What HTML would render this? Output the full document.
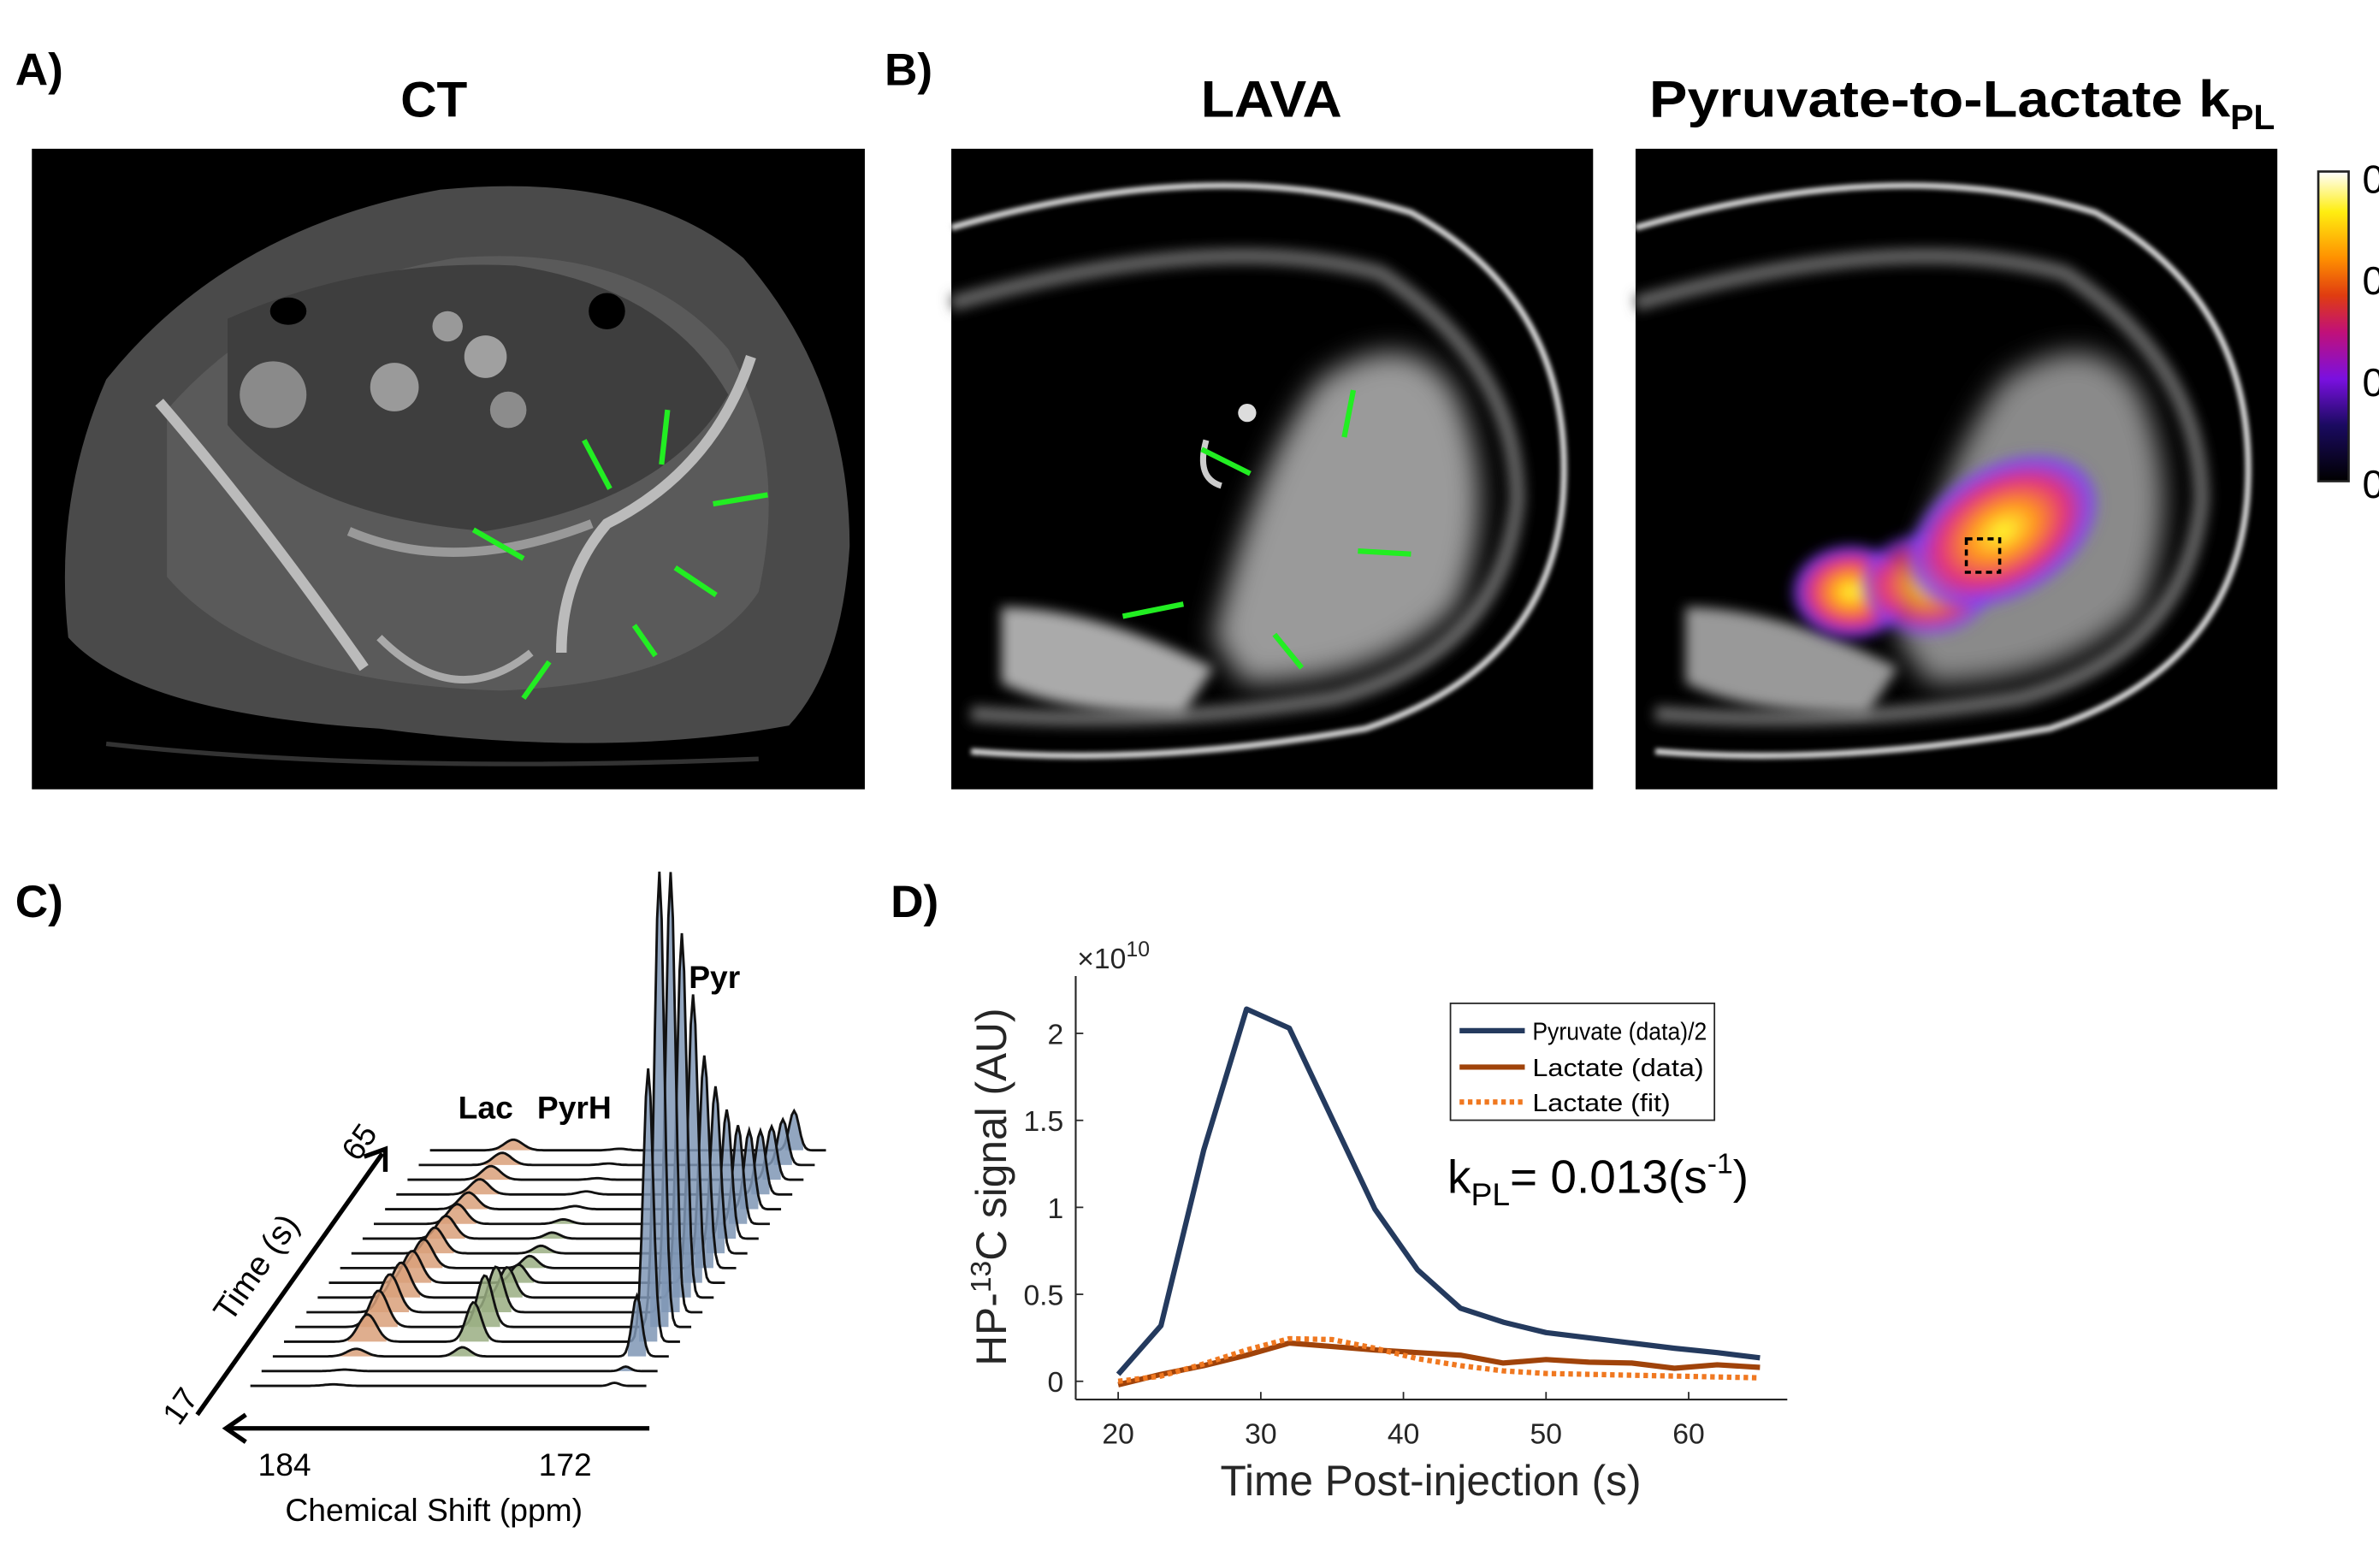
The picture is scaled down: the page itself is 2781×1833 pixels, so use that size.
<!DOCTYPE html>
<html><head><meta charset="utf-8"><style>
html,body{margin:0;padding:0;background:#fff;}
svg{display:block;}
text{font-family:"Liberation Sans",Arial,sans-serif;}
</style></head><body>
<svg id="fig" width="2781" height="1833" viewBox="0 0 1568 1033" preserveAspectRatio="none" xmlns="http://www.w3.org/2000/svg">
<defs>
<filter id="b4"><feGaussianBlur stdDeviation="4"/></filter>
<filter id="b8"><feGaussianBlur stdDeviation="9"/></filter>
<filter id="b2"><feGaussianBlur stdDeviation="1.5"/></filter>
<linearGradient id="cbar" x1="0" y1="1" x2="0" y2="0">
<stop offset="0" stop-color="#000"/><stop offset="0.18" stop-color="#1a0a60"/><stop offset="0.33" stop-color="#7a10e0"/><stop offset="0.48" stop-color="#c0107a"/><stop offset="0.6" stop-color="#e03c10"/><stop offset="0.72" stop-color="#ff9000"/><stop offset="0.87" stop-color="#ffee10"/><stop offset="1" stop-color="#fff"/>
</linearGradient>
<radialGradient id="hot" cx="0.5" cy="0.5" r="0.5">
<stop offset="0" stop-color="#ffff30"/><stop offset="0.35" stop-color="#ff9020"/><stop offset="0.65" stop-color="#e03080"/><stop offset="0.9" stop-color="#8040ff" stop-opacity="0.8"/><stop offset="1" stop-color="#6040ff" stop-opacity="0"/>
</radialGradient>
</defs>

<text x="10" y="56" font-size="30" font-weight="bold">A)</text>
<text x="583" y="56" font-size="30" font-weight="bold">B)</text>
<text x="10" y="604" font-size="30" font-weight="bold">C)</text>
<text x="587" y="604" font-size="30" font-weight="bold">D)</text>
<text x="286" y="77" font-size="33" font-weight="bold" text-anchor="middle">CT</text>
<text x="838" y="77" font-size="34" font-weight="bold" text-anchor="middle" textLength="93" lengthAdjust="spacingAndGlyphs">LAVA</text>
<text x="1087" y="77" font-size="34" font-weight="bold"><tspan textLength="383" lengthAdjust="spacingAndGlyphs">Pyruvate-to-Lactate k</tspan><tspan font-size="23" dy="8">PL</tspan></text>

<g>
<rect x="21" y="98" width="549" height="422" fill="#000"/>
<path d="M70 250 Q150 150 290 125 Q420 112 490 170 Q560 250 560 360 Q555 440 520 478 Q400 500 250 480 Q90 470 45 420 Q35 330 70 250Z" fill="#4a4a4a"/>
<path d="M110 270 Q180 190 300 170 Q420 160 480 230 Q520 300 500 390 Q460 450 330 455 Q170 450 110 380 Z" fill="#5a5a5a"/>
<path d="M150 210 Q240 170 340 175 Q440 190 480 260 Q440 330 320 350 Q200 340 150 280Z" fill="#3e3e3e"/>
<circle cx="180" cy="260" r="22" fill="#8a8a8a"/><circle cx="260" cy="255" r="16" fill="#9a9a9a"/><circle cx="320" cy="235" r="14" fill="#a0a0a0"/><circle cx="295" cy="215" r="10" fill="#999"/><circle cx="335" cy="270" r="12" fill="#8c8c8c"/>
<ellipse cx="190" cy="205" rx="12" ry="9" fill="#000"/><ellipse cx="400" cy="205" rx="12" ry="12" fill="#000"/>
<path d="M105 265 Q170 340 240 440" stroke="#bbb" stroke-width="7" fill="none"/>
<path d="M495 235 Q470 310 400 345 Q370 380 370 430" stroke="#bbb" stroke-width="7" fill="none"/>
<path d="M230 350 Q300 380 390 345" stroke="#999" stroke-width="6" fill="none"/>
<path d="M250 420 Q300 470 350 430" stroke="#aaa" stroke-width="5" fill="none"/>
<path d="M70 490 Q250 510 500 500" stroke="#333" stroke-width="3" fill="none"/>
<g stroke="#22ee22" stroke-width="3.5" fill="#22ee22">
<line x1="312" y1="349" x2="345" y2="368"/><line x1="385" y1="290" x2="402" y2="322"/><line x1="440" y1="270" x2="436" y2="306"/><line x1="506" y1="326" x2="470" y2="332"/><line x1="472" y1="392" x2="445" y2="374"/><line x1="432" y1="432" x2="418" y2="412"/><line x1="345" y1="460" x2="362" y2="436"/>
</g>
</g>

<g>
<rect x="627" y="98" width="423" height="422" fill="#000"/>
<path d="M627 150 Q800 100 930 140 Q1040 200 1030 330 Q1020 440 900 480 Q760 505 640 495" stroke="#ddd" stroke-width="4" fill="none" filter="url(#b2)"/>
<path d="M627 200 Q800 150 910 180 Q1000 240 1000 330 Q990 430 880 460 Q760 480 640 470" stroke="#666" stroke-width="10" fill="none" filter="url(#b4)"/>
<path d="M800 420 Q830 300 870 250 Q930 210 960 260 Q990 330 960 400 Q910 450 820 450Z" fill="#9a9a9a" filter="url(#b8)"/>
<path d="M660 400 Q720 400 800 440 L780 470 Q700 470 660 450Z" fill="#aaa" filter="url(#b4)"/>
<circle cx="822" cy="272" r="6" fill="#ddd"/>
<path d="M795 290 Q788 315 805 320" stroke="#ccc" stroke-width="4" fill="none"/>
<g stroke="#22ee22" stroke-width="3.5">
<line x1="792" y1="296" x2="824" y2="312"/><line x1="892" y1="257" x2="886" y2="288"/><line x1="930" y1="365" x2="895" y2="363"/><line x1="740" y1="406" x2="780" y2="398"/><line x1="858" y1="440" x2="840" y2="418"/>
</g>
</g>

<g>
<rect x="1078" y="98" width="423" height="422" fill="#000"/>
<path d="M1078 150 Q1251 100 1381 140 Q1491 200 1481 330 Q1471 440 1351 480 Q1211 505 1091 495" stroke="#ddd" stroke-width="4" fill="none" filter="url(#b2)"/>
<path d="M1078 200 Q1251 150 1361 180 Q1451 240 1451 330 Q1441 430 1331 460 Q1211 480 1091 470" stroke="#666" stroke-width="10" fill="none" filter="url(#b4)"/>
<path d="M1251 420 Q1281 300 1321 250 Q1381 210 1411 260 Q1441 330 1411 400 Q1361 450 1271 450Z" fill="#8a8a8a" filter="url(#b8)"/>
<path d="M1111 400 Q1171 400 1251 440 L1231 470 Q1151 470 1111 450Z" fill="#999" filter="url(#b4)"/>
<g filter="url(#b4)">
<ellipse cx="1220" cy="390" rx="40" ry="32" fill="url(#hot)"/>
<ellipse cx="1270" cy="385" rx="45" ry="35" fill="url(#hot)" opacity="0.85"/>
<ellipse cx="1320" cy="350" rx="70" ry="45" fill="url(#hot)" transform="rotate(-30 1320 350)"/>
</g>
<rect x="1296" y="355" width="22" height="22" fill="none" stroke="#000" stroke-width="2" stroke-dasharray="4 3"/>
</g>

<g>
<rect x="1528" y="113" width="20" height="204" fill="url(#cbar)" stroke="#222" stroke-width="1.5"/>
<text x="1557" y="127" font-size="26">0</text>
<text x="1557" y="194" font-size="26">0</text>
<text x="1557" y="261" font-size="26">0</text>
<text x="1557" y="328" font-size="26">0</text>
</g>

<g id="waterfall"></g>
<g>
<line x1="130" y1="932" x2="252" y2="760" stroke="#000" stroke-width="3"/>
<polyline points="240,762 254,757 254,772" fill="none" stroke="#000" stroke-width="3"/>
<line x1="428" y1="941" x2="150" y2="941" stroke="#000" stroke-width="3"/>
<polyline points="162,932 149,941 162,950" fill="none" stroke="#000" stroke-width="3"/>
<text x="118" y="940" font-size="21" transform="rotate(-55 118 940)">17</text>
<text x="236" y="766" font-size="21" transform="rotate(-55 236 766)">65</text>
<text x="152" y="872" font-size="22" transform="rotate(-55 152 872)">Time (s)</text>
<text x="170" y="972" font-size="21">184</text>
<text x="355" y="972" font-size="21">172</text>
<text x="286" y="1002" font-size="21" text-anchor="middle">Chemical Shift (ppm)</text>
<text x="302" y="737" font-size="21" font-weight="bold">Lac</text>
<text x="354" y="737" font-size="21" font-weight="bold">PyrH</text>
<text x="454" y="651" font-size="21" font-weight="bold">Pyr</text>
</g>

<g id="chartD">
<g id="dTicks"></g>
<line x1="709" y1="643" x2="709" y2="922" stroke="#262626" stroke-width="1.2"/>
<line x1="709" y1="922" x2="1178" y2="922" stroke="#262626" stroke-width="1.2"/>
<text x="710" y="638" font-size="19" fill="#262626">×10<tspan font-size="14" dy="-8">10</tspan></text>
<text x="663" y="782" font-size="28" fill="#262626" text-anchor="middle" transform="rotate(-90 663 782)">HP-<tspan font-size="19" dy="-10">13</tspan><tspan dy="10">C signal (AU)</tspan></text>
<text x="943" y="985" font-size="28" fill="#262626" text-anchor="middle">Time Post-injection (s)</text>
<g id="dSeries"></g>
<g>
<rect x="956" y="661" width="174" height="77" fill="#fff" stroke="#262626" stroke-width="1"/>
<line x1="962" y1="679" x2="1005" y2="679" stroke="#243a5e" stroke-width="3.5"/>
<text x="1010" y="685" font-size="16" fill="#000" textLength="115" lengthAdjust="spacingAndGlyphs">Pyruvate (data)/2</text>
<line x1="962" y1="703" x2="1005" y2="703" stroke="#a0430a" stroke-width="3.5"/>
<text x="1010" y="709" font-size="16" fill="#000" textLength="113" lengthAdjust="spacingAndGlyphs">Lactate (data)</text>
<line x1="962" y1="726" x2="1005" y2="726" stroke="#f07820" stroke-width="3.5" stroke-dasharray="3 2.5"/>
<text x="1010" y="732" font-size="16" fill="#000" textLength="91" lengthAdjust="spacingAndGlyphs">Lactate (fit)</text>
</g>
<text x="954" y="786" font-size="31" fill="#000">k<tspan font-size="21" dy="8">PL</tspan><tspan dy="-8">= 0.013(s</tspan><tspan font-size="19" dy="-13">-1</tspan><tspan dy="13">)</tspan></text>
</g>
</svg>
<script>
const times = [20,23,26,29,32,35,38,41,44,47,50,53,56,59,62,65];
const pyruvate = [0.04,0.32,1.33,2.14,2.03,1.51,0.99,0.64,0.42,0.34,0.28,0.25,0.22,0.19,0.165,0.135];
const lactateData = [-0.02,0.04,0.09,0.15,0.22,0.20,0.18,0.165,0.15,0.105,0.125,0.11,0.105,0.075,0.095,0.08];
const lactateFit = [0.0,0.03,0.10,0.18,0.245,0.24,0.19,0.13,0.09,0.06,0.045,0.04,0.035,0.03,0.025,0.02];
const xTicks = [20,30,40,50,60];
const yTicks = [0,0.5,1,1.5,2];
const yTickLabels = ["0","0.5","1","1.5","2"];
const pyrPeaks = [2,3,40,180,300,290,240,190,140,110,85,65,52,42,35,30,26];
const lacPeaks = [1,1,5,18,24,25,23,21,19,17,15,13,11,10,9,8,7];
const pyrhPeaks = [0,0,6,26,34,30,20,12,8,5,4,3,2,2,1,1,1];

const NS = "http://www.w3.org/2000/svg";
function xS(t){ return 737 + (t-20)*9.4; }
function yS(v){ return 910 - v*114.6; }

const tk = document.getElementById('dTicks');
xTicks.forEach(t=>{
  const l = document.createElementNS(NS,'line');
  
  
  l.setAttribute('x1',xS(t)); l.setAttribute('x2',xS(t)); l.setAttribute('y1',922); l.setAttribute('y2',917);
  l.setAttribute('stroke','#262626'); tk.appendChild(l);
  const tx = document.createElementNS(NS,'text');
  
  
  tx.setAttribute('x',xS(t)); tx.setAttribute('y',951); tx.setAttribute('font-size','19');
  tx.setAttribute('fill','#262626'); tx.setAttribute('text-anchor','middle'); tx.textContent = t; tk.appendChild(tx);
});
yTicks.forEach((v,i)=>{
  const l = document.createElementNS(NS,'line');
  
  
  l.setAttribute('x1',709); l.setAttribute('x2',714); l.setAttribute('y1',yS(v)); l.setAttribute('y2',yS(v));
  l.setAttribute('stroke','#262626'); tk.appendChild(l);
  const tx = document.createElementNS(NS,'text');
  
  
  tx.setAttribute('x',701); tx.setAttribute('y',yS(v)+7); tx.setAttribute('font-size','19');
  tx.setAttribute('fill','#262626'); tx.setAttribute('text-anchor','end'); tx.textContent = yTickLabels[i]; tk.appendChild(tx);
});
const ds = document.getElementById('dSeries');
function addLine(vals,color,dash,name){
  const p = document.createElementNS(NS,'polyline');
  
  
  p.setAttribute('points', vals.map((v,i)=>xS(times[i])+','+yS(v)).join(' '));
  p.setAttribute('fill','none'); p.setAttribute('stroke',color); p.setAttribute('stroke-width','3.5');
  p.setAttribute('stroke-linejoin','round');
  if(dash) p.setAttribute('stroke-dasharray',dash);
  ds.appendChild(p);
}
addLine(pyruvate,'#243a5e',null,'pyruvate-line');
addLine(lactateData,'#a0430a',null,'lactate-data-line');
addLine(lactateFit,'#f07820','3 2.5','lactate-fit-line');

const wf = document.getElementById('waterfall');
const n = pyrPeaks.length;
function gauss(x,c,w){ return Math.exp(-((x-c)*(x-c))/(2*w*w)); }
for(let i=n-1;i>=0;i--){
  const x0 = 165 + i*7.4, y0 = 913 - i*9.7, len = 262;
  const pc = 240, lc = 55, hc = 125;
  let pts = [];
  for(let s=0;s<=len;s+=1.5){
    const h = pyrPeaks[i]*gauss(s,pc,3.2) + lacPeaks[i]*gauss(s,lc,6) + pyrhPeaks[i]*gauss(s,hc,5);
    pts.push([x0+s, y0-h]);
  }
  const fills = [[lc,lacPeaks[i],6,'#d9a07a'],[hc,pyrhPeaks[i],5,'#9aae82'],[pc,pyrPeaks[i],3.2,'#7f97b5']];
  fills.forEach(f=>{
    if(f[1]<3) return;
    const seg = pts.filter(p=>Math.abs(p[0]-x0-f[0])<f[2]*2.2);
    const poly = document.createElementNS(NS,'polygon');
    
    
    const arr = seg.map(p=>p[0]+','+p[1]);
    arr.push(seg[seg.length-1][0]+','+y0, seg[0][0]+','+y0);
    poly.setAttribute('points',arr.join(' '));
    poly.setAttribute('fill',f[3]); poly.setAttribute('opacity','0.85');
    wf.appendChild(poly);
  });
  const pl = document.createElementNS(NS,'polyline');
  
  
  pl.setAttribute('points',pts.map(p=>p[0].toFixed(1)+','+p[1].toFixed(1)).join(' '));
  pl.setAttribute('fill','none'); pl.setAttribute('stroke','#111'); pl.setAttribute('stroke-width','1.6');
  wf.appendChild(pl);
}
</script>
</body></html>
